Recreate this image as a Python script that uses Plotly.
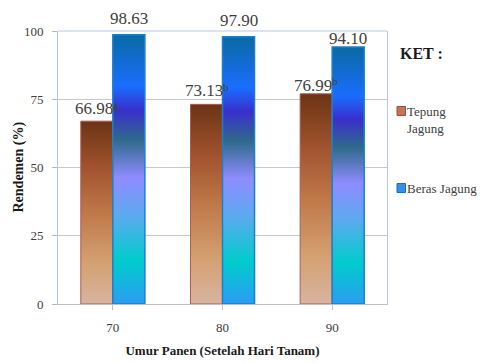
import plotly.graph_objects as go

# Data: yield (rendemen, %) by harvest age (days after planting)
categories = ["70", "80", "90"]
tepung_jagung = [66.98, 73.13, 76.99]
beras_jagung = [98.63, 97.90, 94.10]
tepung_notes = ["a", "b", "b"]
y_ticks = [0, 25, 50, 75, 100]

# Styling
SERIF = '"Liberation Serif", "Times New Roman", serif'
TEXT = "#404040"
BAR_W = 0.292                   # width of each bar in category units
W, H = 481, 363
M = dict(l=58, r=94, t=31, b=59)

brown_scale = [
    [0.00, "#d8b4a0"],
    [0.23, "#d4a070"],
    [0.50, "#bf7848"],
    [0.75, "#a0522d"],
    [1.00, "#6b3414"],
]
blue_scale = [
    [0.00, "#2b9cf2"],
    [0.16, "#00cccc"],
    [0.33, "#5caaf0"],
    [0.47, "#8e8cff"],
    [0.61, "#2e6a8a"],
    [0.72, "#3a2fcc"],
    [0.81, "#1a6dff"],
    [1.00, "#0a6aa2"],
]

# pixel gap between each label's baseline and its bar top
gap_tepung = [6, 7, 2]
gap_beras = [10, 10, 2]


def bar_trace(x_left, value, scale, border, width):
    xs = [x_left, x_left, x_left + BAR_W, x_left + BAR_W, x_left]
    ys = [0, value, value, 0, 0]
    return go.Scatter(
        x=xs, y=ys, mode="lines", fill="toself",
        fillgradient=dict(type="vertical", colorscale=scale),
        line=dict(color=border, width=width),
        hoverinfo="skip", showlegend=False,
    )


fig = go.Figure()
for i, v in enumerate(tepung_jagung):
    fig.add_trace(bar_trace(i - BAR_W, v, brown_scale, "#b05a50", 1))
for i, v in enumerate(beras_jagung):
    fig.add_trace(bar_trace(i, v, blue_scale, "#1a7fd0", 1.5))

label_font = dict(family=SERIF, size=17, color=TEXT)
note_font = dict(family=SERIF, size=11, color=TEXT)
annotations = []
for i, (v, note, g) in enumerate(zip(tepung_jagung, tepung_notes, gap_tepung)):
    # value ends at the right edge of the Tepung bar, letter note raised after it
    annotations.append(dict(
        x=i, y=v, xref="x", yref="y",
        text=f"{v:.2f}", showarrow=False,
        yanchor="bottom", xanchor="right", yshift=g - 5, xshift=2,
        font=label_font,
    ))
    annotations.append(dict(
        x=i, y=v, xref="x", yref="y",
        text=note, showarrow=False,
        yanchor="bottom", xanchor="left", yshift=g + 2.5, xshift=-2,
        font=note_font,
    ))
for i, (v, g) in enumerate(zip(beras_jagung, gap_beras)):
    annotations.append(dict(
        x=i + BAR_W / 2, y=v, xref="x", yref="y",
        text=f"{v:.2f}", showarrow=False,
        yanchor="bottom", xanchor="center", yshift=g - 5,
        font=label_font,
    ))

# Legend ("KET") drawn beside the plot area, positioned in pixels
pw = W - M["l"] - M["r"]
ph = H - M["t"] - M["b"]


def px_x(px):
    return (px - M["l"]) / pw


def px_y(py):
    return (H - M["b"] - py) / ph


# y-axis title
annotations.append(dict(
    x=px_x(18), y=0.5, xref="paper", yref="paper",
    text="<b>Rendemen (%)</b>", textangle=-90, showarrow=False,
    xanchor="center", yanchor="middle",
    font=dict(family=SERIF, size=14, color="#1a1a1a"),
))

annotations.append(dict(
    x=px_x(398), y=px_y(53), xref="paper", yref="paper",
    text="<b>KET :</b>", showarrow=False, xanchor="left", yanchor="middle",
    font=dict(family=SERIF, size=16, color="#1a1a1a"),
))
legend_items = [
    ("Tepung<br>Jagung", 111, 120.5, "#c07850", "#a84848"),
    ("Beras Jagung", 188, 188.5, "#3590e8", "#1a6fc0"),
]
shapes = []
for label, icon_cy, text_cy, fill, border in legend_items:
    shapes.append(dict(
        type="rect", xref="paper", yref="paper",
        x0=px_x(397), x1=px_x(405.5), y0=px_y(icon_cy + 4.5), y1=px_y(icon_cy - 4.5),
        fillcolor=fill, line=dict(color=border, width=1),
    ))
    annotations.append(dict(
        x=px_x(405), y=px_y(text_cy), xref="paper", yref="paper",
        text=label, showarrow=False, xanchor="left", yanchor="middle", align="left",
        font=dict(family=SERIF, size=13, color=TEXT),
    ))

# top edge of the plot frame
shapes.append(dict(type="line", xref="paper", yref="paper", x0=0, x1=1, y0=1, y1=1,
                   line=dict(color="#b8c8e4", width=1)))

fig.update_layout(
    width=W, height=H, margin=M,
    paper_bgcolor="white", plot_bgcolor="white",
    font=dict(family=SERIF, color=TEXT),
    showlegend=False,
    annotations=annotations, shapes=shapes,
    xaxis=dict(
        range=[-0.5, 2.5], tickmode="array", tickvals=[0, 1, 2], ticktext=categories,
        showgrid=False, zeroline=False, showline=True, linecolor="#c0c0c0",
        ticks="outside", ticklen=5, tickcolor="#c0c0c0", ticklabelstandoff=6,
        tickfont=dict(family=SERIF, size=13, color=TEXT), automargin=False,
        title=dict(text="<b>Umur Panen (Setelah Hari Tanam)</b>", standoff=12,
                   font=dict(family=SERIF, size=13, color="#1a1a1a")),
    ),
    yaxis=dict(
        range=[0, 100], tickmode="array", tickvals=y_ticks,
        showgrid=True, gridcolor="#c8c8c8", zeroline=False,
        showline=True, mirror=True, linecolor="#b8c8e4",
        ticks="outside", ticklen=5, tickcolor="#b8b8b8", ticklabelstandoff=6,
        tickfont=dict(family=SERIF, size=13, color=TEXT), automargin=False,
    ),
)

fig.write_html("out.html")
